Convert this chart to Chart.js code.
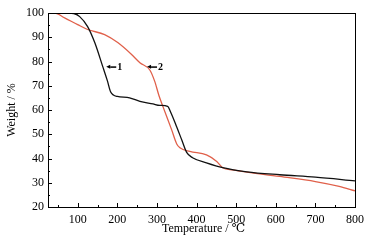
<!DOCTYPE html>
<html>
<head>
<meta charset="utf-8">
<script src="https://cdn.jsdelivr.net/npm/chart.js@4/dist/chart.umd.min.js"></script>
<style>
  html, body { margin: 0; padding: 0; background: #fff; }
  #wrap { width: 372px; height: 241px; position: relative; }
</style>
</head>
<body>
<div id="wrap"><canvas id="tga"></canvas></div>
<script>
/* TGA curves */
var temp1 = [25, 60, 90, 105, 125, 143, 163, 175, 183, 190, 200, 231, 257, 290, 307, 327, 335, 350, 363, 375, 390, 425, 466, 527, 610, 700, 800];
var weight1 = [100, 100, 99.8, 98.5, 94.4, 87.8, 78, 72, 67.5, 66.2, 65.6, 65, 63.6, 62.5, 61.9, 61.5, 59, 53, 47.5, 42.5, 40.3, 38.2, 36.2, 34.5, 33.3, 32.3, 30.8];

var temp2 = [25, 42, 67, 100, 125, 168, 201, 236, 257, 282, 294, 305, 315, 337, 350, 358, 383, 425, 451, 466, 491, 610, 700, 760, 800];
var weight2 = [100, 100, 98, 95.2, 93.2, 91.1, 87.8, 82.9, 79.5, 76.5, 72, 66, 61.5, 51.9, 46, 44.4, 42.9, 41.5, 38.8, 36.2, 35.3, 32.6, 30.5, 28.5, 26.7];

var xTicks = [100, 200, 300, 400, 500, 600, 700, 800];
var yTicks = [20, 30, 40, 50, 60, 70, 80, 90, 100];

var SERIF = '"Liberation Serif", "DejaVu Serif", serif';

function toPoints(xs, ys) {
  return xs.map(function (x, i) { return { x: x, y: ys[i] }; });
}

/* frame, inward ticks, axis titles and curve labels */
var framePlugin = {
  id: 'frame',
  afterDraw: function (chart) {
    var ctx = chart.ctx, a = chart.chartArea;
    var xs = chart.scales.x, ys = chart.scales.y;
    ctx.save();
    ctx.strokeStyle = '#000';
    ctx.lineWidth = 1;
    ctx.strokeRect(Math.round(a.left) + 0.5, Math.round(a.top) + 0.5,
      Math.round(a.right - a.left), Math.round(a.bottom - a.top));

    ctx.beginPath();
    for (var t = 50; t <= 800; t += 50) {
      var px = Math.round(xs.getPixelForValue(t)) + 0.5;
      var len = (t % 100 === 0) ? 4 : 2;
      ctx.moveTo(px, a.bottom); ctx.lineTo(px, a.bottom - len);
    }
    for (var w = 20; w <= 100; w += 5) {
      var py = Math.round(ys.getPixelForValue(w)) + 0.5;
      var l2 = (w % 10 === 0) ? 4 : 2;
      ctx.moveTo(a.left, py); ctx.lineTo(a.left + l2, py);
    }
    ctx.stroke();

    ctx.fillStyle = '#000';
    ctx.font = '12px ' + SERIF;
    ctx.textAlign = 'center';
    ctx.textBaseline = 'middle';
    ctx.fillText('Temperature / ℃', (a.left + a.right) / 2 + 2, 229);

    ctx.save();
    ctx.translate(12, (a.top + a.bottom) / 2);
    ctx.rotate(-Math.PI / 2);
    ctx.fillText('Weight / %', 0, 0);
    ctx.restore();

    /* curve labels with small left arrows */
    function tag(x, y, txt) {
      ctx.beginPath();
      ctx.moveTo(x, y);
      ctx.lineTo(x + 4, y - 2);
      ctx.lineTo(x + 4, y + 2);
      ctx.closePath();
      ctx.fill();
      ctx.fillRect(x + 4, y - 0.5, 6, 1.5);
      ctx.font = 'bold 10px ' + SERIF;
      ctx.textAlign = 'left';
      ctx.fillText(txt, x + 11, y + 1);
    }
    tag(xs.getPixelForValue(172), ys.getPixelForValue(77.8), '1');
    tag(xs.getPixelForValue(275), ys.getPixelForValue(77.8), '2');
    ctx.restore();
  }
};

new Chart(document.getElementById('tga'), {
  type: 'line',
  data: {
    datasets: [
      {
        label: '1',
        data: toPoints(temp1, weight1),
        borderColor: '#111',
        borderWidth: 1.3,
        pointRadius: 0,
        cubicInterpolationMode: 'monotone'
      },
      {
        label: '2',
        data: toPoints(temp2, weight2),
        borderColor: '#e0604a',
        borderWidth: 1.3,
        pointRadius: 0,
        cubicInterpolationMode: 'monotone'
      }
    ]
  },
  options: {
    responsive: true,
    maintainAspectRatio: false,
    animation: false,
    layout: { padding: { left: 0, top: 13, right: 17, bottom: 0 } },
    plugins: { legend: { display: false }, tooltip: { enabled: false } },
    scales: {
      x: {
        type: 'linear',
        min: 25,
        max: 800,
        afterFit: function (s) { s.height = 34; },
        afterBuildTicks: function (s) { s.ticks = xTicks.map(function (v) { return { value: v }; }); },
        grid: { display: false, drawTicks: false },
        border: { display: true, color: '#000' },
        ticks: { color: '#000', padding: 6, font: { family: SERIF, size: 12 }, maxRotation: 0 }
      },
      y: {
        min: 20,
        max: 100,
        afterFit: function (s) { s.width = 48; },
        afterBuildTicks: function (s) { s.ticks = yTicks.map(function (v) { return { value: v }; }); },
        grid: { display: false, drawTicks: false },
        border: { display: true, color: '#000' },
        ticks: { color: '#000', padding: 4, font: { family: SERIF, size: 12 } }
      }
    }
  },
  plugins: [framePlugin]
});
</script>
</body>
</html>
